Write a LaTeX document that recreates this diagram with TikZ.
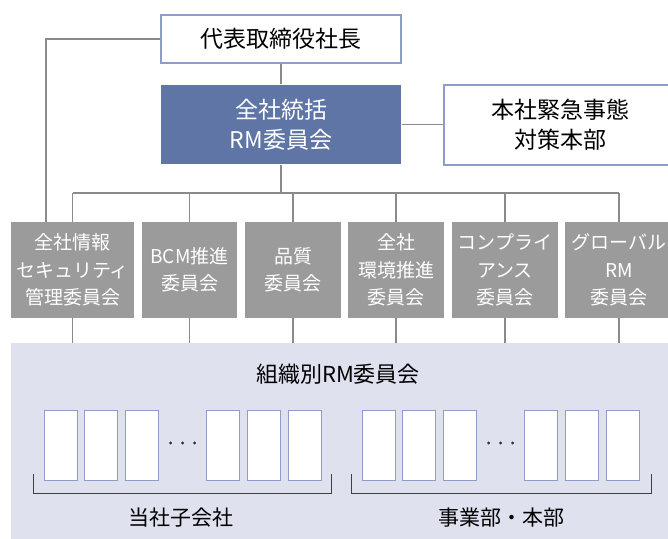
\documentclass[tikz,border=0pt]{standalone}
\usepackage{fontspec}
\setmainfont{Noto Sans CJK JP}
\usepackage{tikz}

\definecolor{rmblue}{HTML}{5E75A6}
\definecolor{edgeblue}{HTML}{8C9DC8}
\definecolor{cmtgray}{HTML}{9B9B9B}
\definecolor{areablue}{HTML}{DFE1EE}
\definecolor{linegray}{HTML}{8A8A8A}

\tikzset{
  headbox/.style={draw=edgeblue, line width=1.2pt, fill=white, minimum height=48pt,
    align=center, font=\fontsize{23}{30}\selectfont},
  cmtbox/.style={fill=cmtgray, text=white, minimum height=96pt, inner sep=0pt,
    align=center, font=\fontsize{19}{27.5}\selectfont},
  unitbox/.style={draw=edgeblue, line width=1pt, fill=white, minimum width=33pt,
    minimum height=70pt, inner sep=0pt},
  conn/.style={draw=linegray, line width=1.2pt},
  brk/.style={draw=black!75, line width=1pt}
}

\begin{document}
\begin{tikzpicture}[x=1pt, y=-1pt]
\useasboundingbox (0,0) rectangle (668,538);
\clip (0,0) rectangle (668,538);

\node[headbox, minimum width=240pt] (ceo) at (281,39) {代表取締役社長};
\node[headbox, fill=rmblue, draw=none, text=white, minimum width=240pt, minimum height=79pt] (rm) at (281,124.5) {全社統括\\RM委員会};
\node[headbox, minimum width=232pt, minimum height=80pt] (hq) at (560,125) {本社緊急事態\\対策本部};

\node[cmtbox, minimum width=123pt] (c1) at (72.5,270) {全社情報\\セキュリティ\\管理委員会};
\node[cmtbox, minimum width=95pt] (c2) at (189.5,270) {BCM推進\\委員会};
\node[cmtbox, minimum width=96pt] (c3) at (293,270) {品質\\委員会};
\node[cmtbox, minimum width=96pt] (c4) at (396,270) {全社\\環境推進\\委員会};
\node[cmtbox, minimum width=106pt] (c5) at (505,270) {コンプライ\\アンス\\委員会};
\node[cmtbox, minimum width=108pt] (c6) at (619,270) {グローバル\\RM\\委員会};

\node[fill=areablue, anchor=north west, minimum width=680pt, minimum height=200pt, inner sep=0pt] (org) at (11,343) {};
\node[font=\fontsize{22}{26}\selectfont] (orgtitle) at (338,374) {組織別RM委員会};

\coordinate (bus) at (281,193);
\coordinate (side) at (46,0);

\draw[conn] (ceo.south) -- (rm.north);
\draw[conn] (rm.east) -- (rm.east -| hq.west);
\draw[conn] (ceo.west) -| (side |- c1.north);
\draw[conn] (rm.south) -- (bus);
\draw[conn] (c1.north |- bus) -- (c6.north |- bus);
\foreach \i in {1,...,6} {
  \draw[conn] (c\i.north |- bus) -- (c\i.north);
  \draw[conn] (c\i.south) -- (c\i.south |- org.north);
}

\foreach \x [count=\i] in {60.5,101.2,141.9,223.3,264,304.7} {
  \node[unitbox] (sub\i) at (\x,445) {};
  \node[unitbox] (div\i) at (\x+318,445) {};
}
\foreach \d in {-12,0,12} {
  \filldraw[black!80] (182.6+\d,443) circle(1.3);
  \filldraw[black!80] (500.6+\d,443) circle(1.3);
}

\draw[brk] (33,474) |- (331,493) -- (331,474);
\draw[brk] (351,474) |- (651,493) -- (651,474);

\node[font=\fontsize{21}{26}\selectfont] (subs) at (181,518) {当社子会社};
\node[font=\fontsize{21}{26}\selectfont] (divs) at (501,518) {事業部・本部};

\end{tikzpicture}
\end{document}
